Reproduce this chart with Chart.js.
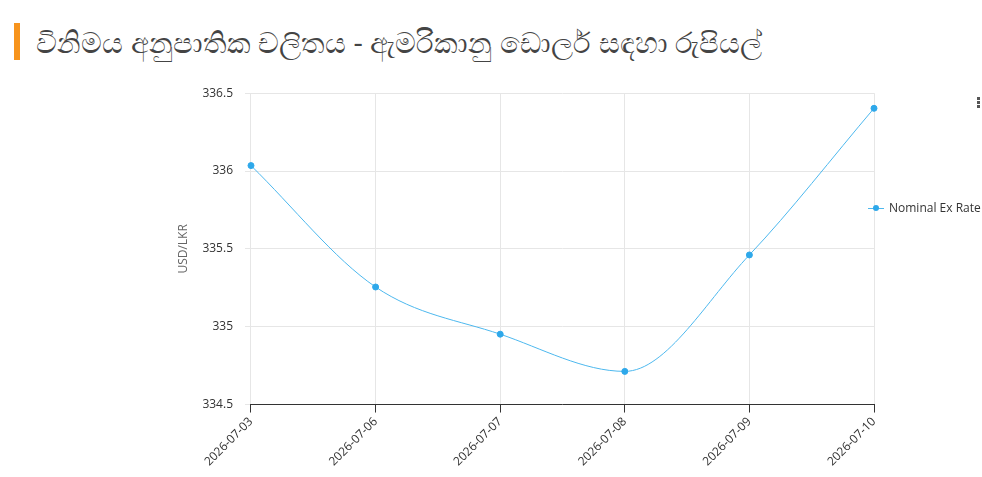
<!DOCTYPE html>
<html>
<head>
<meta charset="utf-8">
<script src="https://cdn.jsdelivr.net/npm/chart.js@4.4.1/dist/chart.umd.min.js"></script>
<style>
  html, body { margin: 0; padding: 0; background: #fff; width: 982px; height: 477px; overflow: hidden; font-family: 'Open Sans', sans-serif; }
  .title { position: absolute; left: 14px; top: 23px; height: 37px; border-left: 6px solid #f7941d; padding-left: 16px; font-size: 29px; line-height: 37px; color: #444; white-space: nowrap; }
  .menu { position: absolute; left: 977px; top: 97px; width: 4px; }
  .menu span { display: block; width: 3px; height: 3px; background: #555; margin-bottom: 1px; }
  .wrap { position: absolute; left: 0; top: 74px; width: 982px; height: 397px; }
  .legend { position: absolute; left: 868px; top: 200px; height: 16px; line-height: 16px; font-size: 12px; color: #333; white-space: nowrap; }
  .legend .mark { position: relative; display: inline-block; width: 16px; height: 16px; vertical-align: top; margin-right: 5px; }
  .legend .mark::before { content: ''; position: absolute; left: 0; top: 8px; width: 16px; height: 1px; background: #4db8ee; }
  .legend .mark::after { content: ''; position: absolute; left: 5px; top: 5px; width: 6px; height: 6px; border-radius: 50%; background: #2ea8ea; }
</style>
</head>
<body>
<div class="title">විනිමය අනුපාතික චලිතය - ඇමරිකානු ඩොලර් සඳහා රුපියල්</div>
<div class="menu"><span></span><span></span><span></span></div>
<div class="wrap"><canvas id="rateChart"></canvas></div>
<div class="legend" id="legend"></div>
<script>
// ── Data ──
const dates = ['2026-07-03', '2026-07-06', '2026-07-07', '2026-07-08', '2026-07-09', '2026-07-10'];
const nominalRate = [336.035, 335.255, 334.952, 334.713, 335.461, 336.403];
const yTicks = [334.5, 335, 335.5, 336, 336.5];
const seriesName = 'Nominal Ex Rate';

const lineBlue = '#4db8ee';
const dotBlue = '#2ea8ea';

Chart.defaults.font.family = "'Open Sans', sans-serif";
Chart.defaults.font.size = 12;
Chart.defaults.color = '#333';

const chart = new Chart(document.getElementById('rateChart'), {
  type: 'line',
  data: {
    labels: dates,
    datasets: [{
      label: seriesName,
      data: nominalRate,
      borderColor: lineBlue,
      backgroundColor: dotBlue,
      pointBackgroundColor: dotBlue,
      pointBorderColor: dotBlue,
      borderWidth: 1,
      pointRadius: 3,
      cubicInterpolationMode: 'monotone',
      fill: false,
      clip: false
    }]
  },
  options: {
    responsive: true,
    maintainAspectRatio: false,
    animation: false,
    layout: { padding: { left: 172, top: 7, right: 108, bottom: 0 } },
    plugins: {
      legend: { display: false },
      tooltip: { enabled: false }
    },
    scales: {
      x: {
        offset: false,
        grid: { color: '#e6e6e6', tickColor: '#333', tickLength: 8, drawTicks: true },
        border: { color: '#333', width: 1 },
        ticks: { maxRotation: 45, minRotation: 45, color: '#333', padding: 2 }
      },
      y: {
        min: 334.5,
        max: 336.5,
        afterBuildTicks: axis => { axis.ticks = yTicks.map(v => ({ value: v })); },
        grid: { color: '#e6e6e6', tickLength: 6 },
        border: { display: false },
        ticks: { color: '#333', padding: 12, callback: v => String(v) },
        title: { display: true, text: 'USD/LKR', color: '#666', font: { size: 12 }, padding: { bottom: 0 } }
      }
    }
  }
});

// legend built from the dataset, drawn as html on the right side
document.getElementById('legend').innerHTML = chart.data.datasets
  .map(ds => '<span class="mark"></span>' + ds.label).join('');
</script>
</body>
</html>
